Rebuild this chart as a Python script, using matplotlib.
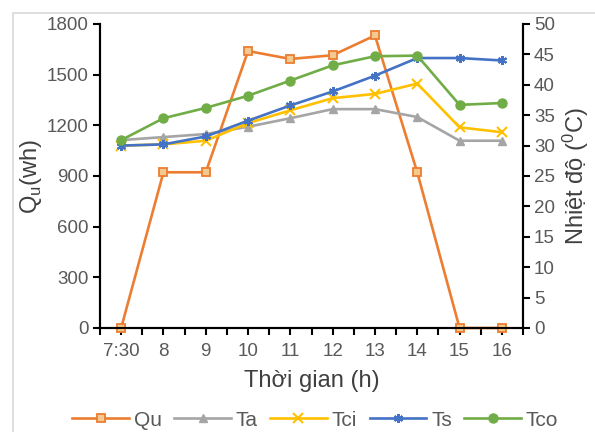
import numpy as np
import matplotlib
matplotlib.use("Agg")
import matplotlib.pyplot as plt
from matplotlib.patches import Rectangle

plt.rcParams['font.family'] = ['Liberation Sans', 'DejaVu Sans']

# Data
times = ["7:30", "8", "9", "10", "11", "12", "13", "14", "15", "16"]
qu = [0, 922, 922, 1640, 1593, 1615, 1732, 922, 0, 0]
ta = [30.9, 31.4, 31.9, 33.1, 34.5, 36.0, 36.0, 34.7, 30.8, 30.8]
tci = [30.0, 30.2, 30.8, 33.7, 35.8, 37.8, 38.5, 40.2, 33.0, 32.2]
ts = [30.0, 30.2, 31.5, 34.1, 36.6, 38.9, 41.5, 44.4, 44.4, 44.0]
tco = [30.9, 34.5, 36.2, 38.2, 40.7, 43.2, 44.7, 44.8, 36.7, 37.0]

gray_txt = "#595959"
x = np.arange(len(times))

fig = plt.figure(figsize=(5.95, 4.32), dpi=100)
ax = fig.add_axes([100 / 595, 1 - 328 / 432, 423 / 595, 304 / 432])
ax2 = ax.twinx()

# chart area border (Excel style)
fig.patches.append(Rectangle((13 / 595, -0.1), 1.2, 1 - 13 / 432 + 0.1, transform=fig.transFigure,
                             fill=False, edgecolor="#D9D9D9", linewidth=1.2))

l1, = ax.plot(x, qu, color="#ED7D31", lw=1.9, marker="s", ms=6, mfc="#F2C98F",
              mec="#ED7D31", mew=1.3, label="Qu", clip_on=False, zorder=3)
l2, = ax2.plot(x, ta, color="#A5A5A5", lw=1.9, marker="^", ms=5.5, label="Ta")
l3, = ax2.plot(x, tci, color="#FFC000", lw=1.9, marker="x", ms=6.5, mew=1.5, label="Tci")
l4, = ax2.plot(x, ts, color="#4472C4", lw=1.9, marker=(6, 2, 0), ms=6.5, mew=1.5, label="Ts")
l5, = ax2.plot(x, tco, color="#70AD47", lw=1.9, marker="o", ms=6.5, label="Tco")

ax.set_xlim(-0.5, len(times) - 0.5)
ax.set_ylim(0, 1800)
ax.set_yticks(np.arange(0, 1801, 300))
ax2.set_ylim(0, 50)
ax2.set_yticks(np.arange(0, 51, 5))

ax.set_xticks(x)
ax.set_xticklabels(times)
ax.set_xticks(np.arange(-0.5, len(times), 1), minor=True)

for a in (ax, ax2):
    a.spines['top'].set_visible(False)
    for s in ('left', 'right', 'bottom'):
        a.spines[s].set_color("black")
        a.spines[s].set_linewidth(1.5)
    a.tick_params(axis='both', which='both', colors="black", labelcolor=gray_txt,
                  labelsize=13.5, width=1.5, length=5, direction='out')
ax.tick_params(axis='x', which='both', pad=6)
ax.tick_params(axis='y', pad=3)
ax2.tick_params(axis='y', pad=3)

ax.set_ylabel("Q$_\\mathregular{u}$(wh)", fontsize=17, color="#404040", labelpad=2)
ax2.set_ylabel("Nhiệt độ ($\\mathregular{^0}$C)", fontsize=17, color="#404040", labelpad=4)
ax.set_xlabel("Thời gian (h)", fontsize=17, color="#404040", labelpad=7)

fig.legend(handles=[l1, l2, l3, l4, l5], loc="center", bbox_to_anchor=(0.53, 1 - 420 / 432),
           ncol=5, frameon=False, fontsize=15, handlelength=2.7, columnspacing=0.6,
           handletextpad=0.25, labelcolor=gray_txt)

fig.savefig("out.png", dpi=100)
